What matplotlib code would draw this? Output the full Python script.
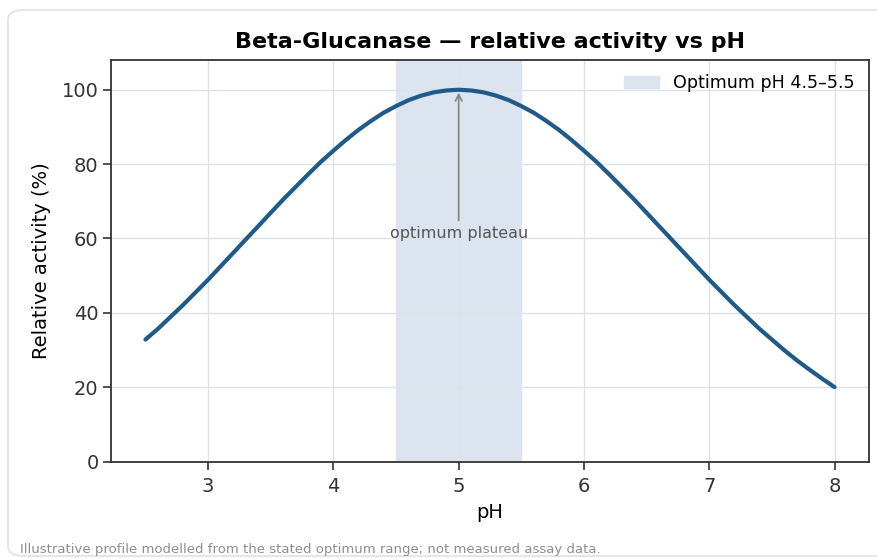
import matplotlib
matplotlib.use("Agg")
import matplotlib.pyplot as plt
from matplotlib.patches import FancyBboxPatch

ph = [2.5, 2.6, 2.7, 2.8, 2.9, 3.0, 3.1, 3.2, 3.3, 3.4, 3.5, 3.6, 3.7, 3.8, 3.9,
      4.0, 4.1, 4.2, 4.3, 4.4, 4.5, 4.6, 4.7, 4.8, 4.9, 5.0, 5.1, 5.2, 5.3, 5.4,
      5.5, 5.6, 5.7, 5.8, 5.9, 6.0, 6.1, 6.2, 6.3, 6.4, 6.5, 6.6, 6.7, 6.8, 6.9,
      7.0, 7.1, 7.2, 7.3, 7.4, 7.5, 7.6, 7.7, 7.8, 7.9, 8.0]
activity = [32.8, 35.7, 38.9, 42.1, 45.5, 48.9, 52.5, 56.1, 59.7, 63.3, 66.9, 70.5,
            73.9, 77.3, 80.6, 83.6, 86.5, 89.2, 91.6, 93.8, 95.6, 97.2, 98.4, 99.3,
            99.8, 100.0, 99.8, 99.3, 98.4, 97.2, 95.6, 93.8, 91.6, 89.2, 86.5, 83.6,
            80.6, 77.3, 73.9, 70.5, 66.9, 63.3, 59.7, 56.1, 52.5, 48.9, 45.5, 42.1,
            38.9, 35.7, 32.8, 29.9, 27.2, 24.7, 22.3, 20.0]
optimum_range = (4.5, 5.5)
peak_ph = 5.0
peak_value = 100.0
x_ticks = [3, 4, 5, 6, 7, 8]
y_ticks = [0, 20, 40, 60, 80, 100]

title = "Beta-Glucanase \u2014 relative activity vs pH"
legend_label = "Optimum pH 4.5\u20135.5"
annotation_text = "optimum plateau"
footnote = "Illustrative profile modelled from the stated optimum range; not measured assay data."

W, H = 878, 558
fig = plt.figure(figsize=(W / 100, H / 100), dpi=100)
fig.patch.set_facecolor("white")

# card background
card = FancyBboxPatch((8 / W, 2 / H), 900 / W, 546 / H,
                      boxstyle="round,pad=0,rounding_size=0.018",
                      transform=fig.transFigure, facecolor="white",
                      edgecolor="#e3e7eb", linewidth=1.5, clip_on=False, zorder=-10)
fig.patches.append(card)

ax = fig.add_axes([111 / W, 1 - 461.5 / H, (869 - 111) / W, (461.5 - 60) / H])
ax.set_zorder(1)
ax.set_facecolor("none")

ax.axvspan(optimum_range[0], optimum_range[1], color="#dbe4ef", zorder=0,
           label=legend_label)
ax.plot(ph, activity, color="#1f5a8a", linewidth=3.0, zorder=3,
        solid_joinstyle="round", solid_capstyle="round")

ax.annotate(annotation_text, xy=(peak_ph, peak_value), xytext=(peak_ph, 59.3),
            ha="center", va="bottom", fontsize=11.5, color="#555555",
            arrowprops=dict(arrowstyle="->", color="#888888", lw=1.3))

ax.set_xlim(2.225, 8.275)
ax.set_ylim(0, 108)
ax.set_xticks(x_ticks)
ax.set_yticks(y_ticks)
ax.grid(True, color="#dde2e8", linewidth=1.0, zorder=1)
ax.set_axisbelow(True)
for s in ax.spines.values():
    s.set_color("#333333")
    s.set_linewidth(1.3)
ax.tick_params(labelsize=14, colors="#333333", length=6, width=1.2)
ax.tick_params(axis="x", pad=5)
ax.tick_params(axis="y", pad=3)

ax.set_title(title, fontsize=16, fontweight="bold", pad=9)
ax.set_xlabel("pH", fontsize=14, labelpad=5)
ax.set_ylabel("Relative activity (%)", fontsize=14, labelpad=8)

leg = ax.legend(loc="upper right", frameon=False, fontsize=12.6,
                handlelength=2.0, borderaxespad=0.4)

fig.text(20 / W, 1 - 549 / H, footnote, fontsize=9.5, color="#8a8f96",
         ha="left", va="center")

fig.savefig("out.png", dpi=100)
